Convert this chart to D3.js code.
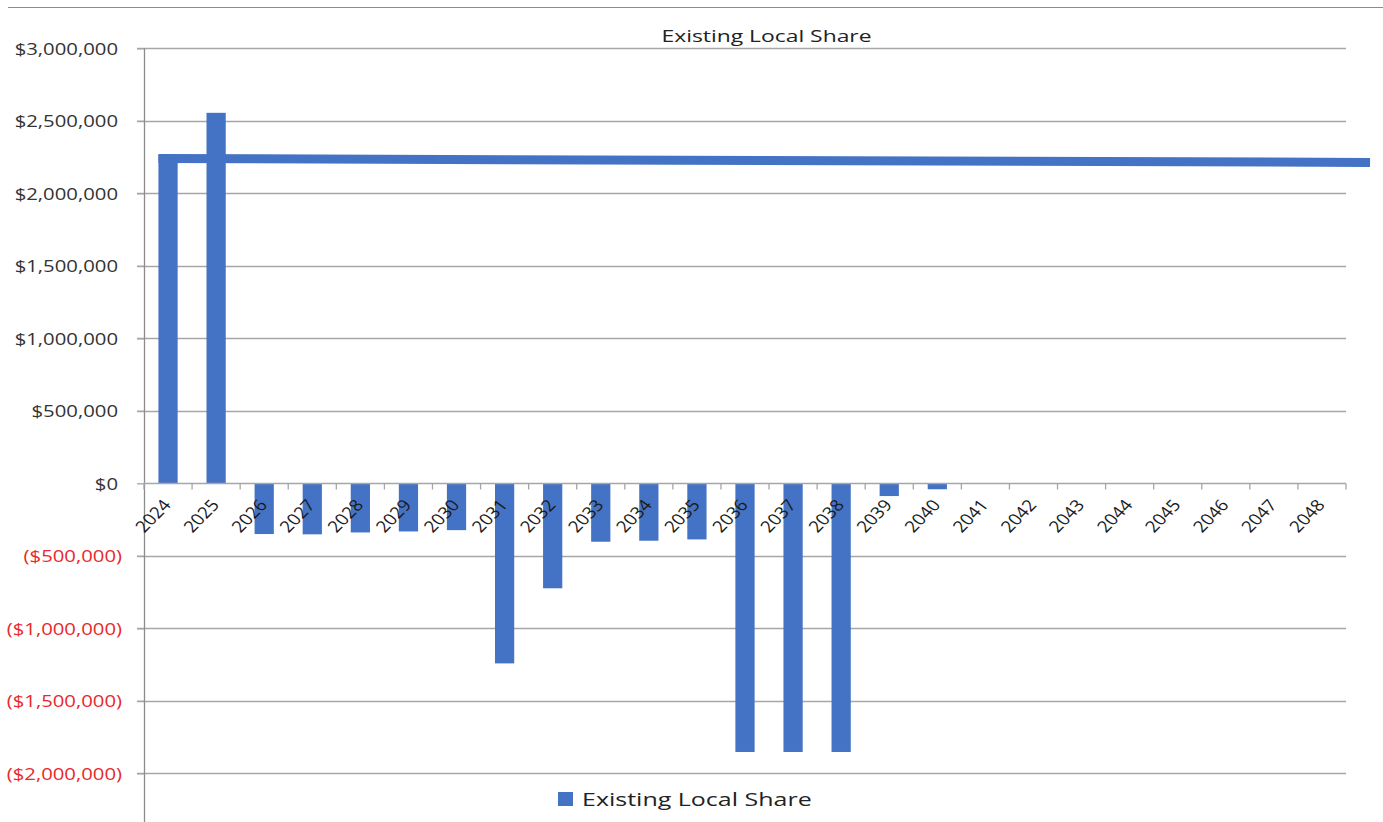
<!DOCTYPE html>
<html><head><meta charset="utf-8">
<script src="https://cdn.jsdelivr.net/npm/d3@7"></script>
<style>body{margin:0;background:#fff}svg{display:block}</style>
</head><body>
<script>
const categories = ["2024","2025","2026","2027","2028","2029","2030","2031","2032","2033","2034","2035","2036","2037","2038","2039","2040","2041","2042","2043","2044","2045","2046","2047","2048"];
const values = [2265000,2555000,-350000,-352000,-339000,-332000,-323000,-1242000,-724000,-403000,-396000,-387000,-1853000,-1853000,-1853000,-88000,-41000,0,0,0,0,0,0,0,0];
const lineCategories = ["2024","2049"];
const lineValues = [2240000,2213000];
const yTicks = [3000000,2500000,2000000,1500000,1000000,500000,0,-500000,-1000000,-1500000,-2000000];
const title = "Existing Local Share";
const seriesName = "Existing Local Share";

(function(){
const W=1383,H=822;
const font='"Open Sans", sans-serif';
const SX=1.3; // horizontal stretch of the original picture
const svg=d3.select("body").append("svg").attr("width",W).attr("height",H);
const pL=144,pR=1346,pT=48.3,pB=773.3;
const x=d3.scaleBand().domain(categories).range([pL,pR]).paddingInner(0).paddingOuter(0);
const y=d3.scaleLinear().domain([-2000000,3000000]).range([pB,pT]);
const bw=x.bandwidth();
const barW=bw/2.5;

// top border line
svg.append("line").attr("x1",8).attr("x2",W).attr("y1",7.5).attr("y2",7.5).attr("stroke","#8c8c8c").attr("stroke-width",1.2);

// gridlines
svg.append("g").selectAll("line").data(yTicks.filter(d=>d!==0)).join("line")
  .attr("x1",pL-7).attr("x2",pR).attr("y1",d=>Math.round(y(d))+0.5).attr("y2",d=>Math.round(y(d))+0.5)
  .attr("stroke","#a6a6a6").attr("stroke-width",1.3);

// y axis
const fmt=d=>{const s="$"+d3.format(",")(Math.abs(d));return d<0?"("+s+")":s;};
const yAxis=d3.axisLeft(y).tickValues(yTicks).tickSize(7).tickFormat(fmt);
const gy=svg.append("g").attr("transform",`translate(${pL},0)`).call(yAxis);
gy.select(".domain").remove();
gy.selectAll(".tick line").attr("stroke","#a6a6a6").attr("stroke-width",1.3);
gy.selectAll(".tick text")
  .attr("x",null).attr("dy","0.36em")
  .attr("transform",d=>`translate(${d<0?-22:-26},0) scale(${SX-0.03},1)`)
  .attr("font-family",font).attr("font-size",16)
  .attr("fill",d=>d<0?"#e8292b":"#333");
svg.append("line").attr("x1",pL+0.5).attr("x2",pL+0.5).attr("y1",pT).attr("y2",H)
  .attr("stroke","#8c8c8c").attr("stroke-width",1.3);

// bars
svg.append("g").selectAll("rect").data(categories.map((c,i)=>({c,v:values[i]}))).join("rect")
  .attr("x",d=>x(d.c)+(bw-barW)/2).attr("width",barW)
  .attr("y",d=>y(Math.max(0,d.v))).attr("height",d=>Math.abs(y(d.v)-y(0)))
  .attr("fill","#4472c4");

// zero axis with ticks at category boundaries
const y0=Math.round(y(0))+0.5;
svg.append("line").attr("x1",pL).attr("x2",pR).attr("y1",y0).attr("y2",y0).attr("stroke","#a6a6a6").attr("stroke-width",1.3);
const bounds=categories.map(c=>x(c)).concat([pR]);
svg.append("g").selectAll("line").data(bounds).join("line")
  .attr("x1",d=>d).attr("x2",d=>d).attr("y1",y0).attr("y2",y0+6).attr("stroke","#a6a6a6").attr("stroke-width",1.3);

// x labels
svg.append("g").selectAll("text").data(categories).join("text")
  .attr("transform",d=>`translate(${x(d)+bw/2+4},${y0+22}) scale(1.18,1) rotate(-50)`)
  .attr("text-anchor","end")
  .attr("font-family",font).attr("font-size",16).attr("fill","#1a1a1a").text(d=>d);

// horizontal line series
const linePts=lineCategories.map((c,i)=>{
  const i0=categories.indexOf(c);
  const px = i0>=0 ? x(c)+(bw-barW)/2 : pL + bw*(+c - +categories[0]) + bw/2;
  return [px,y(lineValues[i])];
});
svg.append("path").attr("d",d3.line()(linePts)).attr("stroke","#4472c4").attr("stroke-width",9).attr("fill","none");

// title
svg.append("text").attr("transform",`translate(766.5,41.7) scale(${SX+0.03},1)`).attr("text-anchor","middle")
  .attr("font-family",font).attr("font-size",17.2).attr("fill","#222").text(title);

// legend
const lg=svg.append("g");
lg.append("rect").attr("x",558).attr("y",792).attr("width",15).attr("height",14).attr("fill","#4472c4");
lg.append("text").attr("transform",`translate(582,805.5) scale(${SX+0.03},1)`)
  .attr("font-family",font).attr("font-size",18.8).attr("fill","#222").text(seriesName);
})();
</script>
</body></html>
